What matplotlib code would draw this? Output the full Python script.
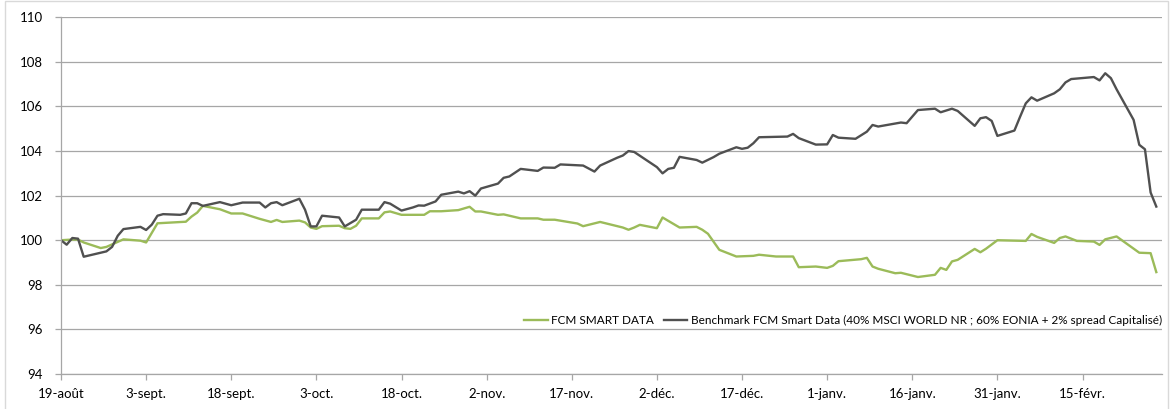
import matplotlib

matplotlib.use("Agg")
import matplotlib.pyplot as plt
import pandas as pd
from matplotlib.patches import Rectangle

plt.rcParams["font.family"] = ["Lato", "DejaVu Sans"]

# jours depuis le 19 août 2019
START = "2019-08-19"
END = "2020-02-29"

fund_days = [
    0, 2, 3, 4, 7, 8, 11, 14, 15, 17, 22, 23, 24, 25, 28, 30, 32, 35, 37, 38,
    39, 42, 43, 44, 45, 46, 49, 50, 51, 52, 53, 56, 57, 58, 60, 64, 65, 67, 70, 72,
    73, 74, 77, 78, 81, 84, 85, 87, 91, 92, 95, 99, 100, 101, 102, 105, 106, 107, 109, 112,
    113, 114, 116, 119, 122, 123, 126, 129, 130, 133, 135, 136, 137, 141, 142, 143, 144, 147, 148, 151,
    154, 155, 156, 157, 158, 161, 162, 163, 165, 170, 171, 172, 175, 176, 177, 179, 182, 183, 184, 186,
    190, 192, 193,
]
fund_values = [
    100.00, 100.03, 100.03, 99.90, 99.65, 99.70, 100.04, 99.98, 99.90, 100.76,
    100.83, 101.06, 101.24, 101.54, 101.39, 101.20, 101.20, 100.96, 100.82, 100.91,
    100.82, 100.88, 100.80, 100.57, 100.51, 100.63, 100.65, 100.54, 100.51, 100.65,
    100.98, 100.98, 101.25, 101.29, 101.14, 101.14, 101.30, 101.30, 101.35, 101.50,
    101.29, 101.29, 101.14, 101.16, 100.98, 100.98, 100.92, 100.92, 100.75, 100.63,
    100.82, 100.57, 100.47, 100.57, 100.69, 100.54, 101.02, 100.87, 100.57, 100.60,
    100.47, 100.29, 99.57, 99.27, 99.30, 99.35, 99.27, 99.27, 98.79, 98.82,
    98.76, 98.85, 99.06, 99.15, 99.21, 98.82, 98.72, 98.52, 98.54, 98.35,
    98.45, 98.76, 98.67, 99.05, 99.12, 99.61, 99.46, 99.62, 100.00, 99.97,
    100.28, 100.15, 99.88, 100.10, 100.17, 99.97, 99.94, 99.79, 100.04, 100.17,
    99.44, 99.42, 98.57,
]

bench_days = [
    0, 1, 2, 3, 4, 8, 9, 10, 11, 14, 15, 16, 17, 18, 21, 22, 23, 24, 25, 28,
    30, 32, 35, 36, 37, 38, 39, 42, 43, 44, 45, 46, 49, 50, 52, 53, 56, 57, 58, 60,
    62, 63, 64, 66, 67, 70, 71, 72, 73, 74, 77, 78, 79, 81, 84, 85, 87, 88, 92, 94,
    95, 98, 99, 100, 101, 105, 106, 107, 108, 109, 112, 113, 115, 116, 119, 120, 121, 122, 123, 128,
    129, 130, 133, 135, 136, 137, 140, 142, 143, 144, 148, 149, 151, 154, 155, 157, 158, 161, 162, 163,
    164, 165, 168, 169, 170, 171, 172, 175, 176, 177, 178, 182, 183, 184, 185, 186, 189, 190, 191, 192,
    193,
]
bench_values = [
    100.00, 99.80, 100.10, 100.07, 99.26, 99.50, 99.70, 100.20, 100.50, 100.60,
    100.46, 100.70, 101.10, 101.17, 101.14, 101.20, 101.66, 101.66, 101.54, 101.71,
    101.57, 101.69, 101.69, 101.47, 101.66, 101.71, 101.57, 101.86, 101.37, 100.62,
    100.62, 101.10, 101.02, 100.62, 100.92, 101.37, 101.37, 101.71, 101.64, 101.33,
    101.47, 101.56, 101.55, 101.74, 102.04, 102.18, 102.10, 102.20, 102.00, 102.32,
    102.54, 102.80, 102.86, 103.20, 103.11, 103.26, 103.25, 103.40, 103.35, 103.08,
    103.35, 103.70, 103.80, 104.00, 103.96, 103.28, 103.00, 103.20, 103.25, 103.74,
    103.60, 103.48, 103.73, 103.88, 104.17, 104.10, 104.15, 104.35, 104.62, 104.65,
    104.77, 104.58, 104.29, 104.30, 104.72, 104.60, 104.55, 104.87, 105.17, 105.10,
    105.28, 105.25, 105.84, 105.90, 105.74, 105.90, 105.80, 105.13, 105.47, 105.52,
    105.35, 104.68, 104.92, 105.54, 106.14, 106.41, 106.26, 106.59, 106.77, 107.08,
    107.23, 107.32, 107.17, 107.49, 107.27, 106.77, 105.40, 104.28, 104.08, 102.14,
    101.51,
]

tick_labels = [
    "19-août", "3-sept.", "18-sept.", "3-oct.", "18-oct.", "2-nov.", "17-nov.",
    "2-déc.", "17-déc.", "1-janv.", "16-janv.", "31-janv.", "15-févr.",
]

fund_name = "FCM SMART DATA"
bench_name = "Benchmark FCM Smart Data (40% MSCI WORLD NR ; 60% EONIA + 2% spread Capitalisé)"

start = pd.Timestamp(START)
fund_x = start + pd.to_timedelta(fund_days, unit="D")
bench_x = start + pd.to_timedelta(bench_days, unit="D")
tick_x = pd.date_range(START, periods=len(tick_labels), freq="15D")

GREEN = "#9BBB59"
DARK = "#505050"
GRID = "#A6A6A6"

fig = plt.figure(figsize=(11.73, 4.09), dpi=100)
ax = fig.add_axes([0.052, 0.0856, 0.9386, 0.8721])

# cadre de la zone de graphique
fig.patches.append(Rectangle((0.0043, -0.01), 0.9915, 1.0075, transform=fig.transFigure,
                             fill=False, edgecolor="#D9D9D9", lw=1.0))

ax.plot(fund_x, fund_values, color=GREEN, lw=1.7, label=fund_name, solid_joinstyle="round")
ax.plot(bench_x, bench_values, color=DARK, lw=1.7, label=bench_name, solid_joinstyle="round")

ax.set_xlim(start, pd.Timestamp(END))
ax.set_ylim(94, 110)
ax.set_yticks(range(94, 111, 2))
ax.set_xticks(tick_x)
ax.set_xticklabels(tick_labels)

ax.grid(axis="y", color=GRID, lw=0.9)
ax.set_axisbelow(True)
for side in ["top", "right"]:
    ax.spines[side].set_visible(False)
for side in ["left", "bottom"]:
    ax.spines[side].set_color(GRID)
    ax.spines[side].set_linewidth(0.9)
ax.tick_params(axis="both", colors=GRID, length=4, width=0.9, labelcolor="black", labelsize=9.5)
ax.tick_params(axis="y", pad=9)
ax.tick_params(axis="x", pad=6)

ax.legend(loc="center right", bbox_to_anchor=(1.0, 0.151), ncol=2, frameon=False,
          fontsize=8.5, handlelength=2.0, handletextpad=0.3, columnspacing=0.8,
          borderaxespad=0, borderpad=0)

fig.savefig("out.png", dpi=100)
